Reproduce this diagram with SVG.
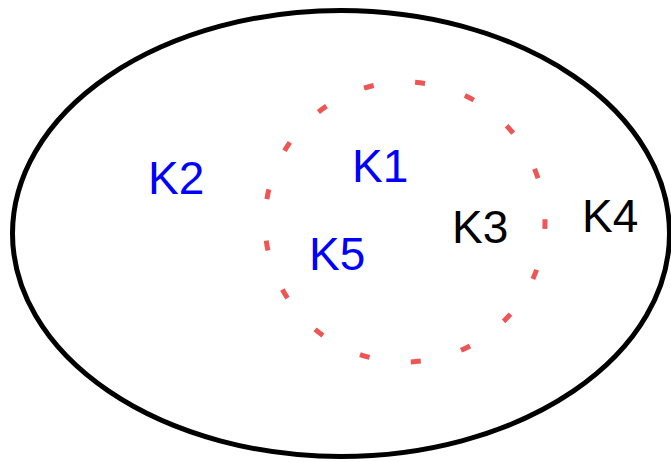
<svg xmlns="http://www.w3.org/2000/svg" width="671" height="462" viewBox="0 0 671 462">
<style>
text{font-family:"Liberation Sans",Arial,sans-serif;font-size:46px}
.b{fill:#0000ff}.k{fill:#000}
</style>
<rect width="671" height="462" fill="#fff"/>
<g id="outer"><ellipse cx="341" cy="233.5" rx="328.5" ry="223" fill="none" stroke="#000" stroke-width="5"/></g>
<g id="inner"><circle cx="405" cy="222" r="140" fill="none" stroke="#ee5555" stroke-width="5" stroke-dasharray="10 41.74" stroke-dashoffset="3"/></g>
<g id="K1"><text class="b" x="352" y="182">K1</text></g>
<g id="K2"><text class="b" x="148" y="194">K2</text></g>
<g id="K3"><text class="k" x="452" y="243">K3</text></g>
<g id="K4"><text class="k" x="582" y="232">K4</text></g>
<g id="K5"><text class="b" x="309" y="270">K5</text></g>
</svg>
